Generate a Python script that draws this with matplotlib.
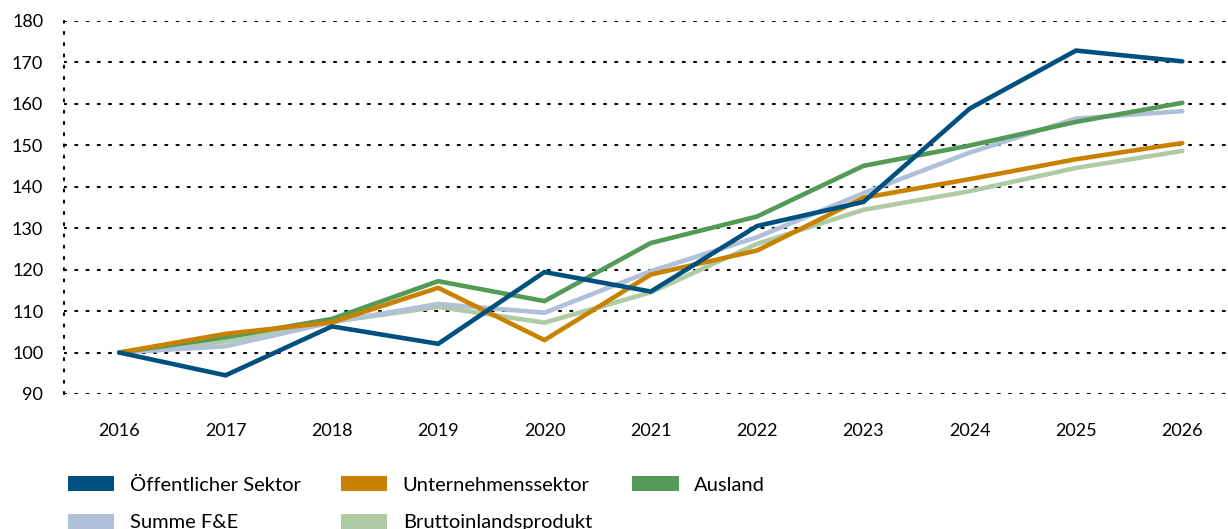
import matplotlib.pyplot as plt
from matplotlib.patches import Patch

plt.rcParams['font.family'] = ['Lato', 'DejaVu Sans']

years = [2016, 2017, 2018, 2019, 2020, 2021, 2022, 2023, 2024, 2025, 2026]

oeffentlich = [100, 94.5, 106.3, 102.1, 119.4, 114.7, 130.5, 136.3, 158.8, 172.8, 170.2]
unternehmen = [100, 104.5, 107.3, 115.6, 103.0, 118.8, 124.6, 137.3, 141.8, 146.6, 150.5]
ausland = [100, 103.7, 108.1, 117.2, 112.4, 126.4, 132.8, 145.0, 149.9, 155.6, 160.2]
summe = [100, 101.5, 107.3, 111.7, 109.6, 119.6, 127.8, 138.4, 148.2, 156.4, 158.2]
bip = [100, 102.7, 107.4, 111.0, 107.2, 114.5, 126.2, 134.4, 138.9, 144.5, 148.6]

series = [
    ('Bruttoinlandsprodukt', bip, '#AFCBA5'),
    ('Summe F&E', summe, '#AFC0D8'),
    ('Ausland', ausland, '#529A56'),
    ('Unternehmenssektor', unternehmen, '#C98200'),
    ('Öffentlicher Sektor', oeffentlich, '#00507F'),
]
# legend fills column by column, so this gives rows:
# Öffentlicher | Unternehmen | Ausland / Summe | BIP
legend_order = ['Öffentlicher Sektor', 'Summe F&E', 'Unternehmenssektor',
                'Bruttoinlandsprodukt', 'Ausland']

fig = plt.figure(figsize=(12.28, 5.29), dpi=100)
ax = fig.add_axes([64 / 1228, 1 - 394 / 529, 1 - 64 / 1228, (394 - 20.7) / 529])

colors = {}
for name, vals, col in series:
    ax.plot(years, vals, color=col, lw=3.3, solid_capstyle='round',
            solid_joinstyle='miter', zorder=3)
    colors[name] = col

ax.set_xlim(2015.48, 2026.43)
ax.set_ylim(90, 180)
ax.set_yticks(range(90, 181, 10))
ax.set_xticks(years)

dots = (0, (1, 4.4))
for v in range(90, 181, 10):
    ax.axhline(v, color='black', lw=1.5, ls=dots, dash_capstyle='round', zorder=1)

for s in ['top', 'right', 'bottom']:
    ax.spines[s].set_visible(False)
ax.spines['left'].set_linestyle(dots)
ax.spines['left'].set_linewidth(1.5)
ax.spines['left'].set_capstyle('round')

ax.tick_params(axis='both', length=0, labelsize=13, colors='black')
ax.tick_params(axis='y', pad=15)
ax.tick_params(axis='x', pad=21)

handles = [Patch(facecolor=colors[n], edgecolor='none', label=n) for n in legend_order]
fig.legend(handles=handles, loc='upper left', bbox_to_anchor=(68 / 1228, 0.100),
           ncol=3, frameon=False, fontsize=14.5, handlelength=2.3,
           handleheight=0.77, handletextpad=0.77, columnspacing=2.0,
           labelspacing=1.0, borderaxespad=0, borderpad=0)

fig.savefig('out.png', dpi=100)
